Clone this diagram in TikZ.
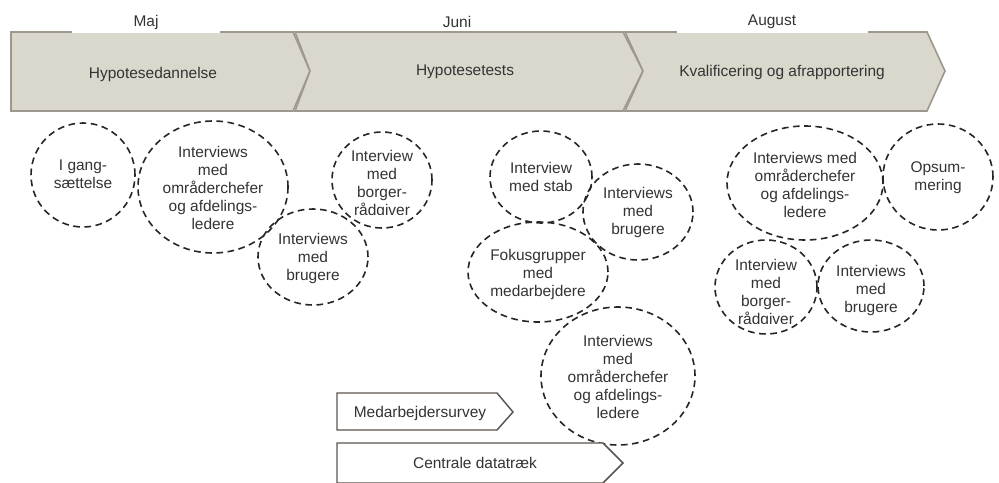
\documentclass[tikz,border=0pt]{standalone}
\usepackage{fontspec}
\setmainfont{Liberation Sans}
\usetikzlibrary{shapes.geometric}
\definecolor{chevfill}{RGB}{218,216,204}
\definecolor{chevline}{RGB}{158,151,142}
\definecolor{txtgray}{RGB}{51,51,51}
\definecolor{darkline}{RGB}{92,84,78}
\begin{document}
\begin{tikzpicture}[x=0.75pt,y=-0.75pt,
  every node/.style={font=\fontsize{11.6}{13.5}\selectfont, text=txtgray},
  bubble/.style 2 args={ellipse, draw=black!85, dash pattern=on 5pt off 3.4pt, line width=1.2pt, inner sep=0pt, minimum width=#1*1.5pt, minimum height=#2*1.5pt},
  lbl/.style={align=center, inner sep=0pt},
  phase/.style={fill=chevfill, draw=chevline, line width=1.2pt, line join=miter},
  smallchev/.style={fill=white, draw=darkline, line width=1.1pt, line join=miter}]
\useasboundingbox (0,0) rectangle (999,482);
\clip (0,0) rectangle (999,482);

% phase chevrons
\draw[phase] (11,32) -- (293,32) -- (310,71) -- (293,111) -- (11,111) -- cycle;
\draw[phase] (295,32) -- (623,32) -- (643,71) -- (623,111) -- (295,111) -- (310,71) -- cycle;
\draw[phase] (625,32) -- (927,32) -- (945,71) -- (927,111) -- (625,111) -- (643,71) -- cycle;
\draw[white, line width=1.2pt] (72,32) -- (220,32);
\draw[white, line width=1.2pt] (677,32) -- (868,32);

\node[lbl] (maj) at (146,22) {Maj};
\node[lbl] (juni) at (457,22) {Juni};
\node[lbl] (aug) at (772,22) {August};

\node[lbl] (p1) at (153,74) {Hypotesedannelse};
\node[lbl] (p2) at (465,72) {Hypotesetests};
\node[lbl] (p3) at (782,72) {Kvalificering og afrapportering};

% bubbles
\node[bubble={52}{52}] (e1) at (83,175) {};
\node[lbl] (t1) at (83,174) {I gang-\\sættelse};

\node[bubble={75}{66}] (e2) at (213,187) {};
\node[lbl] (t2) at (213,188) {Interviews\\med\\områderchefer\\og afdelings-\\ledere};

\node[bubble={50}{48}] (e3) at (382,180) {};
\begin{scope}
\clip (330,140) rectangle (435,214);
\node[lbl] (t3) at (382,184) {Interview\\med\\borger-\\rådgiver};
\end{scope}

\node[bubble={55}{48}] (e4) at (313,257) {};
\node[lbl] (t4) at (313,258) {Interviews\\med\\brugere};

\node[bubble={51}{46}] (e5) at (541,177) {};
\node[lbl] (t5) at (541,177) {Interview\\med stab};

\node[bubble={55}{48}] (e6) at (638,212) {};
\node[lbl] (t6) at (638,212) {Interviews\\med\\brugere};

\node[bubble={70}{50}] (e7) at (538,272) {};
\node[lbl] (t7) at (538,274) {Fokusgrupper\\med\\medarbejdere};

\node[bubble={77}{69}] (e8) at (618,376) {};
\node[lbl] (t8) at (618,377) {Interviews\\med\\områderchefer\\og afdelings-\\ledere};

\node[bubble={78}{57}] (e9) at (805,183) {};
\node[lbl] (t9) at (805,185) {Interviews med\\områderchefer\\og afdelings-\\ledere};

\node[bubble={55}{53}] (e10) at (938,177) {};
\node[lbl] (t10) at (938,178) {Opsum-\\mering};

\node[bubble={51}{47}] (e11) at (766,287) {};
\begin{scope}
\clip (712,245) rectangle (820,323);
\node[lbl] (t11) at (766,293) {Interview\\med\\borger-\\rådgiver};
\end{scope}

\node[bubble={53}{46}] (e12) at (871,286) {};
\node[lbl] (t12) at (871,290) {Interviews\\med\\brugere};

% data sources
\draw[smallchev] (337,393) -- (497,393) -- (513,412) -- (497,430) -- (337,430) -- cycle;
\node[lbl] (s1) at (420,413) {Medarbejdersurvey};
\draw[smallchev] (337,443) -- (603,443) -- (623,463) -- (603,483) -- (337,483) -- cycle;
\node[lbl] (s2) at (475,463) {Centrale datatræk};
\end{tikzpicture}
\end{document}
